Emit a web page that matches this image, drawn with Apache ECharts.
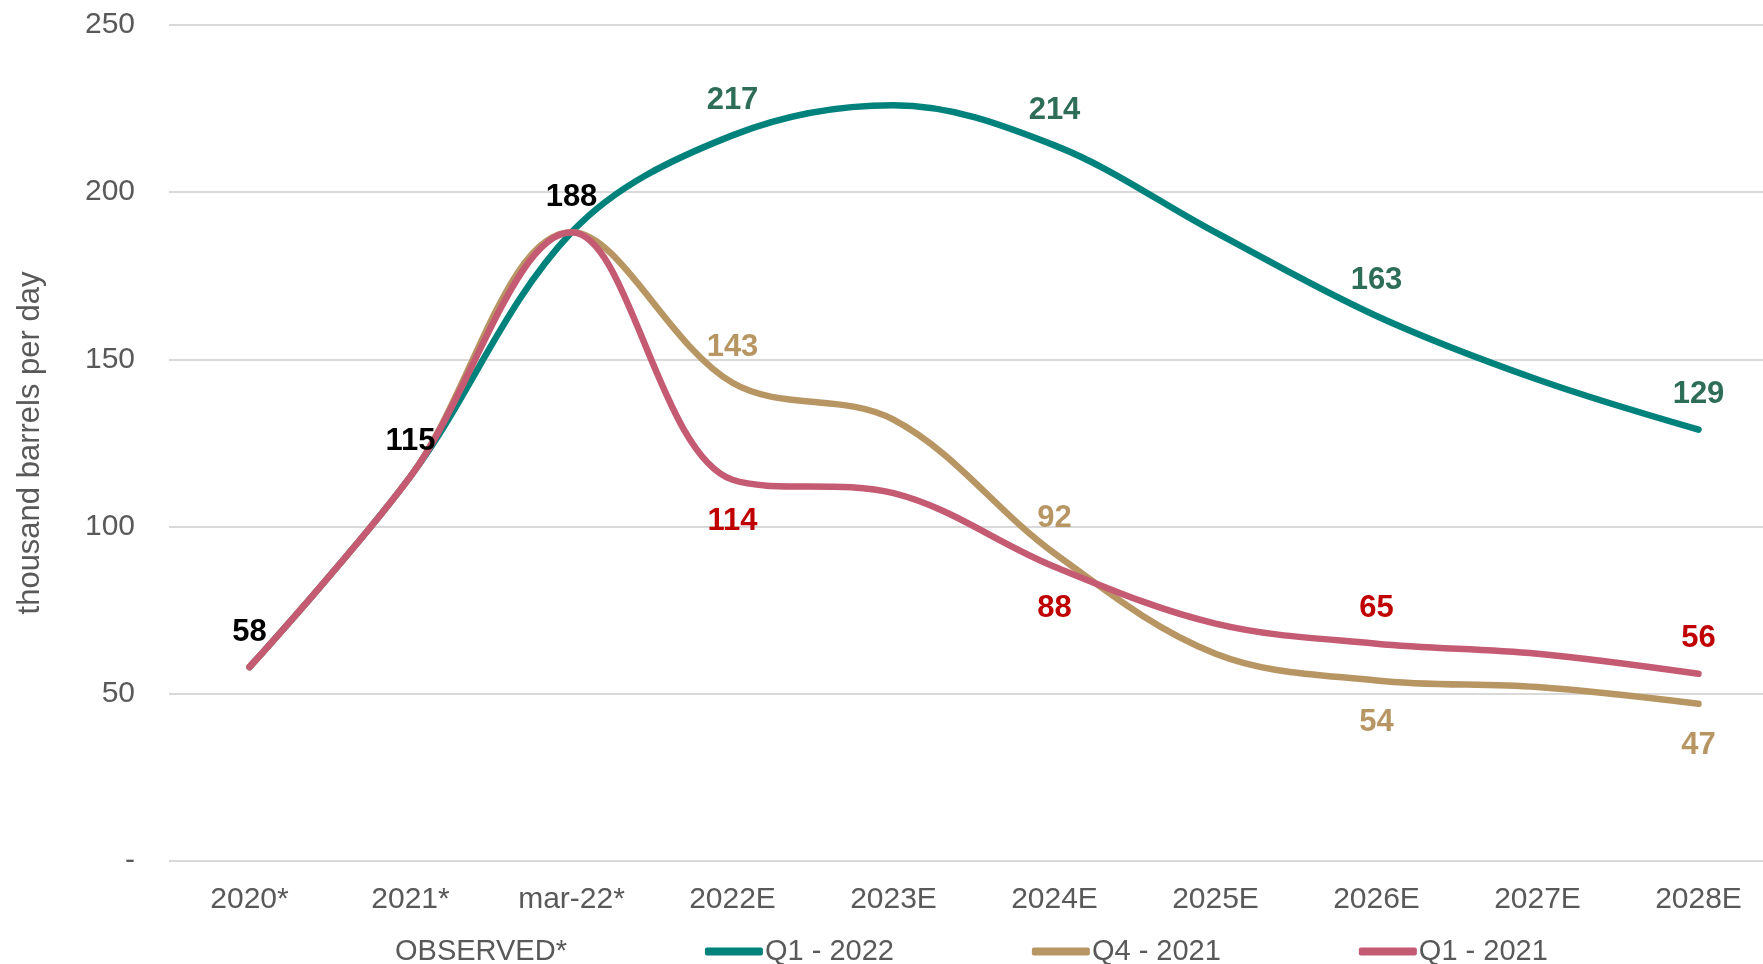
<!DOCTYPE html>
<html>
<head>
<meta charset="utf-8">
<script src="https://cdn.jsdelivr.net/npm/echarts@6/dist/echarts.min.js"></script>
<style>
  html, body { margin: 0; padding: 0; background: #fff; }
  #chart { width: 1763px; height: 964px; }
</style>
</head>
<body>
<div id="chart"></div>
<script>
// categories and series values
var categories = ['2020*', '2021*', 'mar-22*', '2022E', '2023E', '2024E', '2025E', '2026E', '2027E', '2028E'];
var observed = [58, 115, 188];
var q1_2022 = [58, 115, 188, 217, 226, 214, 188, 163, 144, 129];
var q4_2021 = [58, 115, 188, 143, 132, 92, 62, 54, 52, 47];
var q1_2021 = [58, 115, 188, 114, 110, 88, 71, 65, 62, 56];
var yTicks = [0, 50, 100, 150, 200, 250];

var FONT = '"Liberation Sans", Arial, sans-serif';
var GREY = '#595959';
var NONE = 'rgba(0,0,0,0)';

// which points carry a value label, and on which side
function buildData(values, labelled, color) {
  return values.map(function(v, i) {
    var pos = labelled[i];
    return {
      value: v,
      label: pos ? {
        show: true,
        position: pos,
        distance: pos === 'top' ? 19 : 26,
        color: color
      } : { show: false }
    };
  });
}

function lineSeries(name, values, lineColor, labelled, labelColor) {
  return {
    name: name,
    type: 'line',
    smooth: 0.35,
    symbol: 'circle',
    symbolSize: 1,
    showSymbol: true,
    itemStyle: { color: NONE, borderWidth: 0 },
    lineStyle: { color: lineColor, width: 6.5, cap: 'round', join: 'round' },
    label: {
      fontFamily: FONT,
      fontWeight: 'bold',
      fontSize: 31
    },
    emphasis: { disabled: true },
    data: buildData(values, labelled, labelColor)
  };
}

var myChart = echarts.init(document.getElementById('chart'));

var option = {
  animation: false,
  backgroundColor: '#fff',
  grid: {
    left: 169,
    right: -16,
    top: 25,
    bottom: 103,
    outerBoundsMode: 'none'
  },
  legend: {
    top: 932,
    left: 330,
    itemWidth: 58,
    itemHeight: 8,
    itemGap: 138,
    icon: 'roundRect',
    selectedMode: false,
    textStyle: { fontFamily: FONT, fontSize: 29, color: GREY, padding: [0, 0, 0, -3] },
    data: [
      { name: 'OBSERVED*', itemStyle: { color: NONE } },
      { name: 'Q1 - 2022', itemStyle: { color: '#00827c' } },
      { name: 'Q4 - 2021', itemStyle: { color: '#b89664' } },
      { name: 'Q1 - 2021', itemStyle: { color: '#c55a73' } }
    ]
  },
  xAxis: {
    type: 'category',
    data: categories,
    boundaryGap: true,
    axisLine: { show: false },
    axisTick: { show: false },
    axisLabel: {
      interval: 0,
      margin: 24,
      fontFamily: FONT,
      fontSize: 30,
      color: GREY
    }
  },
  yAxis: {
    type: 'value',
    min: 0,
    max: 250,
    interval: 50,
    name: 'thousand barrels per day',
    nameLocation: 'middle',
    nameGap: 123,
    nameTextStyle: { fontFamily: FONT, fontSize: 31, color: GREY },
    axisLine: { show: false },
    axisTick: { show: false },
    axisLabel: {
      margin: 34,
      fontFamily: FONT,
      fontSize: 30,
      color: GREY,
      formatter: function(v) { return yTicks.indexOf(v) === 0 ? '-' : v; }
    },
    splitLine: { lineStyle: { color: '#d9d9d9', width: 2 } }
  },
  series: [
    lineSeries('Q1 - 2022', q1_2022, '#00827c',
      [null, null, null, 'top', null, 'top', null, 'top', null, 'top'], '#2e6e58'),
    lineSeries('Q4 - 2021', q4_2021, '#b89664',
      [null, null, null, 'top', null, 'top', null, 'bottom', null, 'bottom'], '#b89664'),
    lineSeries('Q1 - 2021', q1_2021, '#c55a73',
      [null, null, null, 'bottom', null, 'bottom', null, 'top', null, 'top'], '#c00000'),
    {
      name: 'OBSERVED*',
      type: 'line',
      symbol: 'circle',
      symbolSize: 1,
      itemStyle: { color: NONE, borderWidth: 0 },
      lineStyle: { color: NONE, width: 0 },
      z: 5,
      label: {
        show: true,
        position: 'top',
        distance: 19,
        fontFamily: FONT,
        fontWeight: 'bold',
        fontSize: 31,
        color: '#000'
      },
      emphasis: { disabled: true },
      data: observed
    }
  ]
};

myChart.setOption(option);
</script>
</body>
</html>
